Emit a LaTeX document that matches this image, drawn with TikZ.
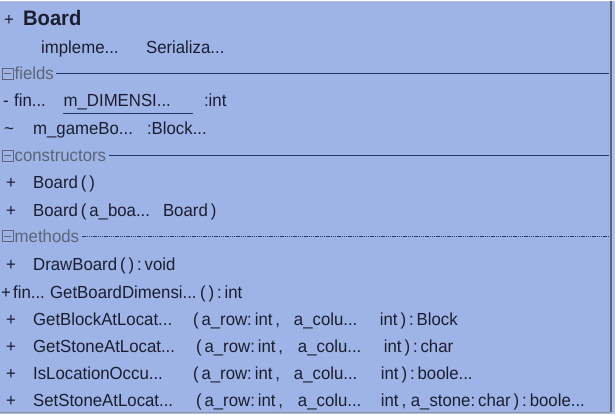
\documentclass[tikz,border=0pt]{standalone}
\usepackage{fontspec}
\setmainfont{Liberation Sans}[FakeStretch=0.96]
\usepackage{tikz}

\definecolor{classfill}{HTML}{9EB4E6}
\definecolor{edgefill}{HTML}{B2C0E2}
\definecolor{membertext}{HTML}{1B1E30}
\definecolor{headertext}{HTML}{5C6477}
\definecolor{rulecol}{HTML}{22346A}
\definecolor{framecol}{HTML}{5A6479}

% place a piece of a line at a fixed offset
\newcommand\tab[2]{\rlap{\hspace*{#1pt}#2}}

\begin{document}
\begin{tikzpicture}
		[x=1pt,y=-1pt,
		member/.style={anchor=base west,inner sep=0pt,text=membertext,
font=\fontsize{17.5}{20}\selectfont},
		header/.style={member,text=headertext},
		toggle/.style={draw=headertext,line width=0.9pt,minimum size=11pt,inner sep=0pt},
		solidrule/.style={draw=rulecol,line width=1.1pt},
		dotrule/.style={draw=rulecol,line width=1.1pt,dash pattern=on 1.4pt off 0.8pt}]
		\fill[edgefill] (0,0) rectangle (615,414);
		\fill[classfill] (0,1) rectangle (611,412);
		\draw[framecol,line width=1.2pt] (611,0) -- (611,412);
		\draw[framecol!70,line width=1pt] (0,412) -- (611,412);
		\useasboundingbox (0,0) rectangle (615,414);
		% title
		\node[member] (title) at (0,25) {\tab{3}{+}\tab{22}{\fontsize{21}{24}\selectfont\bfseries Board}};
		\node[member] (impl) at (0,53) {\tab{40}{impleme...}\tab{145}{Serializa...}};
		% fields
		\node[toggle] (tfields) at (7,73) {};
		\draw[headertext,line width=0.9pt] ([xshift=2pt]tfields.west) -- ([xshift=-2pt]tfields.east);
		\node[header] (fields) at (14,79) {fields};
		\coordinate (fieldsend) at (609,73);
		\draw[solidrule] ([xshift=2pt]fields.east |- fieldsend) -- (fieldsend);
		\node[member] (dimfin) at (0,106) {\tab{2}{-}\tab{13}{fin...}\tab{203}{:int}};
		\node[member] (dimname) at (63,106) {m\_DIMENSI...};
		\draw[rulecol,line width=1.3pt] ([yshift=-3pt]dimname.south west) -- ([yshift=-3pt,xshift=22pt]dimname.south east);
		\node[member] (gameboard) at (0,134) {\tab{3}{\textasciitilde}\tab{32}{m\_gameBo...}\tab{146}{:Block...}};
		% constructors
		\node[toggle] (tctors) at (7,155) {};
		\draw[headertext,line width=0.9pt] ([xshift=2pt]tctors.west) -- ([xshift=-2pt]tctors.east);
		\node[header] (ctors) at (14,161) {constructors};
		\coordinate (ctorsend) at (609,155);
		\draw[solidrule,line width=1.6pt] ([xshift=3pt]ctors.east |- ctorsend) -- (ctorsend);
		\node[member] (ctorone) at (0,188) {\tab{5}{+}\tab{32}{Board\,(\,)}};
		\node[member] (ctortwo) at (0,216) {\tab{5}{+}\tab{32}{Board\,(\,a\_boa...}\tab{162}{Board\,)}};
		% methods
		\node[toggle] (tmeth) at (7,236) {};
		\draw[headertext,line width=0.9pt] ([xshift=2pt]tmeth.west) -- ([xshift=-2pt]tmeth.east);
		\node[header] (meth) at (14,242) {methods};
		\coordinate (methend) at (608,236);
		\draw[dotrule] ([xshift=3pt]meth.east |- methend) -- (methend);
		\node[member] (drawboard) at (0,270) {\tab{5}{+}\tab{32}{DrawBoard\,(\,)\,:\,void}};
		\node[member] (getdim) at (0,298) {\tab{0}{+}\tab{12}{fin...}\tab{49}{GetBoardDimensi...}\tab{199}{(\,)\,:\,int}};
		\node[member] (getblock) at (0,325) {\tab{5}{+}\tab{32}{GetBlockAtLocat...}\tab{192}{(\,a\_row:\,int\,,}\tab{293}{a\_colu...}\tab{379}{int\,)\,:\,Block}};
		\node[member] (getstone) at (0,352) {\tab{5}{+}\tab{32}{GetStoneAtLocat...}\tab{195}{(\,a\_row:\,int\,,}\tab{297}{a\_colu...}\tab{383}{int\,)\,:\,char}};
		\node[member] (isoccu) at (0,379) {\tab{5}{+}\tab{32}{IsLocationOccu...}\tab{192}{(\,a\_row:\,int\,,}\tab{293}{a\_colu...}\tab{380}{int\,)\,:\,boole...}};
		\node[member] (setstone) at (0,406) {\tab{5}{+}\tab{32}{SetStoneAtLocat...}\tab{195}{(\,a\_row:\,int\,,}\tab{297}{a\_colu...}\tab{380}{int\,, a\_stone:\,char\,)\,:\,boole...}};
\end{tikzpicture}
\end{document}
